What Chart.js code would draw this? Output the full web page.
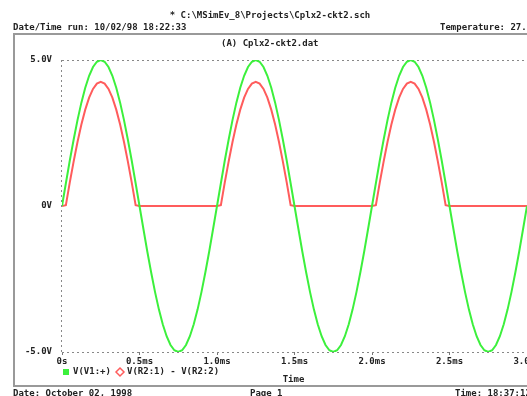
<!DOCTYPE html>
<html>
<head>
<meta charset="utf-8">
<script src="https://cdn.jsdelivr.net/npm/chart.js@4/dist/chart.umd.min.js"></script>
<style>
  html, body { margin: 0; padding: 0; background: #fff; overflow: hidden; }
  body { width: 527px; height: 396px; position: relative; font: bold 9px "DejaVu Sans Mono", monospace; color: #222; }
  #wrap { position: absolute; left: 0; top: 0; width: 600px; height: 396px; }
  .t { position: absolute; white-space: pre; line-height: 10px; }
  .hl { position: absolute; background: #999; }
</style>
</head>
<body>
<div id="wrap"><canvas id="probe" width="600" height="396"></canvas></div>

<div class="t" style="left:0;width:540px;top:10px;text-align:center">* C:\MSimEv_8\Projects\Cplx2-ckt2.sch</div>
<div class="t" style="left:13px;top:22px">Date/Time run: 10/02/98 18:22:33</div>
<div class="t" style="left:440px;top:22px">Temperature: 27.0</div>
<div class="hl" style="left:13px;top:33px;width:520px;height:2px"></div>
<div class="hl" style="left:13px;top:33px;width:2px;height:354px"></div>
<div class="t" style="left:221px;top:38px">(A) Cplx2-ckt2.dat</div>
<div class="hl" style="left:13px;top:385px;width:520px;height:2px"></div>
<div class="t" style="left:13px;top:388px">Date: October 02, 1998</div>
<div class="t" style="left:250px;top:388px">Page 1</div>
<div class="t" style="left:455px;top:388px">Time: 18:37:12</div>

<script>
// time axis (ms), one sample every 0.025 ms
const timeMs = [
  0, 0.025, 0.05, 0.075, 0.1, 0.125, 0.15, 0.175, 0.2, 0.225,
  0.25, 0.275, 0.3, 0.325, 0.35, 0.375, 0.4, 0.425, 0.45, 0.475,
  0.5, 0.525, 0.55, 0.575, 0.6, 0.625, 0.65, 0.675, 0.7, 0.725,
  0.75, 0.775, 0.8, 0.825, 0.85, 0.875, 0.9, 0.925, 0.95, 0.975,
  1.0, 1.025, 1.05, 1.075, 1.1, 1.125, 1.15, 1.175, 1.2, 1.225,
  1.25, 1.275, 1.3, 1.325, 1.35, 1.375, 1.4, 1.425, 1.45, 1.475,
  1.5, 1.525, 1.55, 1.575, 1.6, 1.625, 1.65, 1.675, 1.7, 1.725,
  1.75, 1.775, 1.8, 1.825, 1.85, 1.875, 1.9, 1.925, 1.95, 1.975,
  2.0, 2.025, 2.05, 2.075, 2.1, 2.125, 2.15, 2.175, 2.2, 2.225,
  2.25, 2.275, 2.3, 2.325, 2.35, 2.375, 2.4, 2.425, 2.45, 2.475,
  2.5, 2.525, 2.55, 2.575, 2.6, 2.625, 2.65, 2.675, 2.7, 2.725,
  2.75, 2.775, 2.8, 2.825, 2.85, 2.875, 2.9, 2.925, 2.95, 2.975,
  3.0
];

// V(V1:+)  source voltage
const vSource = [
  0, 0.78, 1.55, 2.27, 2.94, 3.54, 4.05, 4.46, 4.76, 4.94,
  5, 4.94, 4.76, 4.46, 4.05, 3.54, 2.94, 2.27, 1.55, 0.78,
  0, -0.78, -1.55, -2.27, -2.94, -3.54, -4.05, -4.46, -4.76, -4.94,
  -5, -4.94, -4.76, -4.46, -4.05, -3.54, -2.94, -2.27, -1.55, -0.78,
  0, 0.78, 1.55, 2.27, 2.94, 3.54, 4.05, 4.46, 4.76, 4.94,
  5, 4.94, 4.76, 4.46, 4.05, 3.54, 2.94, 2.27, 1.55, 0.78,
  0, -0.78, -1.55, -2.27, -2.94, -3.54, -4.05, -4.46, -4.76, -4.94,
  -5, -4.94, -4.76, -4.46, -4.05, -3.54, -2.94, -2.27, -1.55, -0.78,
  0, 0.78, 1.55, 2.27, 2.94, 3.54, 4.05, 4.46, 4.76, 4.94,
  5, 4.94, 4.76, 4.46, 4.05, 3.54, 2.94, 2.27, 1.55, 0.78,
  0, -0.78, -1.55, -2.27, -2.94, -3.54, -4.05, -4.46, -4.76, -4.94,
  -5, -4.94, -4.76, -4.46, -4.05, -3.54, -2.94, -2.27, -1.55, -0.78,
  0
];

// V(R2:1) - V(R2:2)  voltage across the load
const vLoad = [
  0, 0.03, 0.8, 1.52, 2.19, 2.79, 3.3, 3.71, 4.01, 4.19,
  4.25, 4.19, 4.01, 3.71, 3.3, 2.79, 2.19, 1.52, 0.8, 0.03,
  0, 0, 0, 0, 0, 0, 0, 0, 0, 0,
  0, 0, 0, 0, 0, 0, 0, 0, 0, 0,
  0, 0.03, 0.8, 1.52, 2.19, 2.79, 3.3, 3.71, 4.01, 4.19,
  4.25, 4.19, 4.01, 3.71, 3.3, 2.79, 2.19, 1.52, 0.8, 0.03,
  0, 0, 0, 0, 0, 0, 0, 0, 0, 0,
  0, 0, 0, 0, 0, 0, 0, 0, 0, 0,
  0, 0.03, 0.8, 1.52, 2.19, 2.79, 3.3, 3.71, 4.01, 4.19,
  4.25, 4.19, 4.01, 3.71, 3.3, 2.79, 2.19, 1.52, 0.8, 0.03,
  0, 0, 0, 0, 0, 0, 0, 0, 0, 0,
  0, 0, 0, 0, 0, 0, 0, 0, 0, 0,
  0
];

const xTicks = [0, 0.5, 1.0, 1.5, 2.0, 2.5, 3.0];
const yTicks = [-5, 0, 5];
const seriesNames = ["V(V1:+)", "V(R2:1) - V(R2:2)"];

const GREEN = "#3cf03c";
const RED = "#ff5c5c";
const FONT = { family: "DejaVu Sans Mono", size: 9, weight: "bold" };

const toPts = ys => timeMs.map((t, i) => ({ x: t, y: ys[i] }));

// dotted axis frame, legend and "Time" label, drawn the probe way
const probeDeco = {
    id: "probeDeco",
    beforeDatasetsDraw(chart) {
        const { ctx, chartArea: a } = chart;
        ctx.save();
        ctx.strokeStyle = "#888";
        ctx.lineWidth = 1;
        ctx.setLineDash([2, 3]);
        ctx.beginPath();
        ctx.moveTo(a.left, a.top + 0.5); ctx.lineTo(a.right + 80, a.top + 0.5);
        ctx.moveTo(a.left, a.bottom + 0.5); ctx.lineTo(a.right + 80, a.bottom + 0.5);
        ctx.moveTo(a.left - 0.5, a.top); ctx.lineTo(a.left - 0.5, a.bottom);
        ctx.stroke();
        ctx.restore();
    },
    afterDraw(chart) {
        const { ctx, chartArea: a } = chart;
        const ly = a.bottom + 20;
        ctx.save();
        ctx.font = "bold 9px 'DejaVu Sans Mono'";
        ctx.textBaseline = "middle";
        ctx.fillStyle = "#222";

        // green square
        ctx.fillStyle = GREEN;
        ctx.fillRect(a.left + 1, ly - 3, 6, 6);
        ctx.fillStyle = "#222";
        ctx.fillText(seriesNames[0], a.left + 11, ly);

        // red diamond
        const dx = a.left + 58;
        ctx.strokeStyle = RED;
        ctx.lineWidth = 1.5;
        ctx.beginPath();
        ctx.moveTo(dx, ly - 4); ctx.lineTo(dx + 4, ly); ctx.lineTo(dx, ly + 4); ctx.lineTo(dx - 4, ly);
        ctx.closePath();
        ctx.stroke();
        ctx.fillText(seriesNames[1], dx + 7, ly);

        ctx.textAlign = "center";
        ctx.fillText("Time", chart.scales.x.getPixelForValue(1.5) - 1, ly + 8);
        ctx.restore();
    }
};

new Chart(document.getElementById("probe"), {
    type: "line",
    data: {
        datasets: [
            { label: seriesNames[0], data: toPts(vSource), borderColor: GREEN, borderWidth: 2, pointRadius: 0, tension: 0 },
            { label: seriesNames[1], data: toPts(vLoad), borderColor: RED, borderWidth: 2, pointRadius: 0, tension: 0 }
        ]
    },
    options: {
        responsive: false,
        animation: false,
        events: [],
        layout: { padding: { left: 0, top: 60, right: 73, bottom: 0 } },
        plugins: { legend: { display: false }, tooltip: { enabled: false } },
        scales: {
            x: {
                type: "linear",
                min: 0,
                max: 3.0,
                afterBuildTicks: s => { s.ticks = xTicks.map(v => ({ value: v })); },
                afterFit: s => { s.height = 44; },
                grid: { drawOnChartArea: false, tickLength: 3, color: "#777" },
                border: { display: false },
                ticks: {
                    padding: 1,
                    color: "#222",
                    font: FONT,
                    maxRotation: 0,
                    callback: v => v === 0 ? "0s" : v.toFixed(1) + "ms"
                }
            },
            y: {
                min: -5,
                max: 5,
                afterBuildTicks: s => { s.ticks = yTicks.map(v => ({ value: v })); },
                afterFit: s => { s.width = 62; },
                grid: { display: false },
                border: { display: false },
                ticks: {
                    padding: 2,
                    color: "#222",
                    font: FONT,
                    callback: v => v === 0 ? "0V" : v.toFixed(1) + "V"
                }
            }
        }
    },
    plugins: [probeDeco]
});
</script>
</body>
</html>
